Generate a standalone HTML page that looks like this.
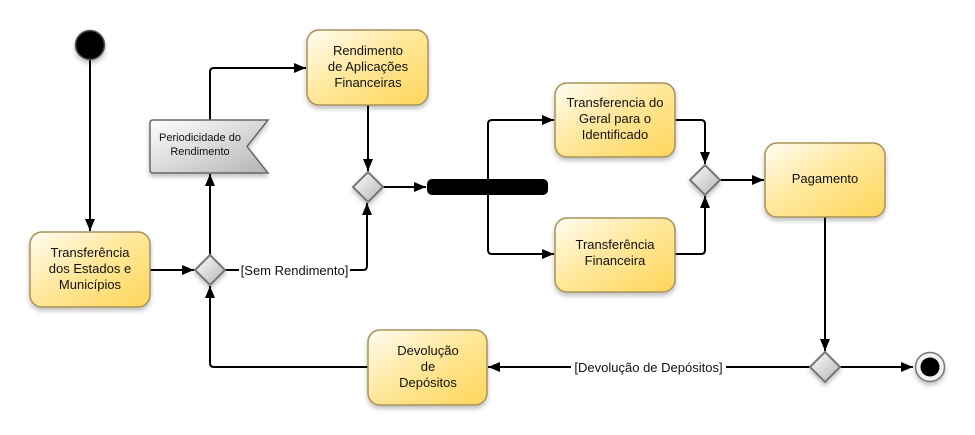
<!DOCTYPE html>
<html><head><meta charset="utf-8">
<style>
html,body{margin:0;padding:0;background:#fff;}
svg{display:block;}
text{font-family:"Liberation Sans",Arial,sans-serif;fill:#111;}
</style></head>
<body>
<svg width="975" height="435" viewBox="0 0 975 435" xmlns="http://www.w3.org/2000/svg">
<defs>
  <linearGradient id="yg" x1="0" y1="0" x2="1" y2="1">
    <stop offset="0" stop-color="#fffdf4"/>
    <stop offset="0.45" stop-color="#ffe89e"/>
    <stop offset="1" stop-color="#ffd658"/>
  </linearGradient>
  <linearGradient id="gg" x1="0" y1="0" x2="1" y2="1">
    <stop offset="0" stop-color="#ffffff"/>
    <stop offset="1" stop-color="#b4b4b4"/>
  </linearGradient>
  <filter id="sh" x="-20%" y="-20%" width="140%" height="150%">
    <feDropShadow dx="0" dy="3" stdDeviation="2.5" flood-color="#000" flood-opacity="0.25"/>
  </filter>
  <marker id="ar" viewBox="0 0 12 10" refX="12" refY="5" markerWidth="12" markerHeight="10" markerUnits="userSpaceOnUse" orient="auto">
    <path d="M0,0 L12,5 L0,10 z" fill="#000"/>
  </marker>
</defs>

<g fill="none" stroke="#000" stroke-width="2">
  <path d="M90,60 V231" marker-end="url(#ar)"/>
  <path d="M150,270 H194" marker-end="url(#ar)"/>
  <path d="M210,255 V174" marker-end="url(#ar)"/>
  <path d="M210,120 V72 Q210,68 214,68 H306" marker-end="url(#ar)"/>
  <path d="M368,105 V171" marker-end="url(#ar)"/>
  <path d="M225,270 H239 M350,270 H363 Q367,270 367,266 V203" marker-end="url(#ar)"/>
  <path d="M383,187 H426" marker-end="url(#ar)"/>
  <path d="M488,187 V124 Q488,120 492,120 H554" marker-end="url(#ar)"/>
  <path d="M488,187 V250 Q488,254 492,254 H554" marker-end="url(#ar)"/>
  <path d="M675,120 H701 Q705,120 705,124 V164" marker-end="url(#ar)"/>
  <path d="M675,254 H701 Q705,254 705,250 V196" marker-end="url(#ar)"/>
  <path d="M720,180 H764" marker-end="url(#ar)"/>
  <path d="M825,217 V351" marker-end="url(#ar)"/>
  <path d="M840,367 H913" marker-end="url(#ar)"/>
  <path d="M810,367 H726 M571,367 H488" marker-end="url(#ar)"/>
  <path d="M368,367 H214 Q210,367 210,363 V286" marker-end="url(#ar)"/>
</g>

<circle cx="90" cy="45" r="14.5" fill="#000" stroke="#555" stroke-width="1.5" filter="url(#sh)"/>

<circle cx="930" cy="367" r="14.5" fill="#f2f2f2" stroke="#777" stroke-width="1.5" filter="url(#sh)"/>
<circle cx="930" cy="367" r="9.5" fill="#000"/>

<rect x="427" y="179" width="121" height="16" rx="5" fill="#000"/>

<g fill="url(#yg)" stroke="#a8925a" stroke-width="1.5" filter="url(#sh)">
  <rect x="30" y="232" width="120" height="75" rx="12"/>
  <rect x="307" y="30" width="121" height="75" rx="12"/>
  <rect x="555" y="83" width="120" height="74" rx="12"/>
  <rect x="555" y="218" width="120" height="74" rx="12"/>
  <rect x="765" y="143" width="120" height="74" rx="12"/>
  <rect x="368" y="330" width="119" height="75" rx="12"/>
</g>

<path d="M153,120 H268 L247,146.5 L268,173 H153 Q150,173 150,170 V123 Q150,120 153,120 z" fill="url(#gg)" stroke="#666" stroke-width="1.5" filter="url(#sh)"/>

<g fill="url(#gg)" stroke="#777" stroke-width="2" filter="url(#sh)">
  <path d="M210,255 L225,270 L210,285 L195,270 z"/>
  <path d="M368,172 L383,187 L368,202 L353,187 z"/>
  <path d="M705,165 L720,180 L705,195 L690,180 z"/>
  <path d="M825,352 L840,367 L825,382 L810,367 z"/>
</g>

<g font-size="13" text-anchor="middle">
  <text x="90" y="257">Transferência</text>
  <text x="90" y="273">dos Estados e</text>
  <text x="90" y="289">Municípios</text>

  <text x="368" y="55">Rendimento</text>
  <text x="368" y="71">de Aplicações</text>
  <text x="368" y="87">Financeiras</text>

  <text x="615" y="107">Transferencia do</text>
  <text x="615" y="123">Geral para o</text>
  <text x="615" y="139">Identificado</text>

  <text x="615" y="249">Transferência</text>
  <text x="615" y="265">Financeira</text>

  <text x="825" y="183">Pagamento</text>

  <text x="428" y="355">Devolução</text>
  <text x="428" y="371">de</text>
  <text x="428" y="387">Depósitos</text>

  <text x="294.5" y="275">[Sem Rendimento]</text>
  <text x="648.5" y="372">[Devolução de Depósitos]</text>
</g>
<g font-size="11" text-anchor="middle">
  <text x="200" y="141">Periodicidade do</text>
  <text x="200" y="155">Rendimento</text>
</g>
</svg>
</body></html>
